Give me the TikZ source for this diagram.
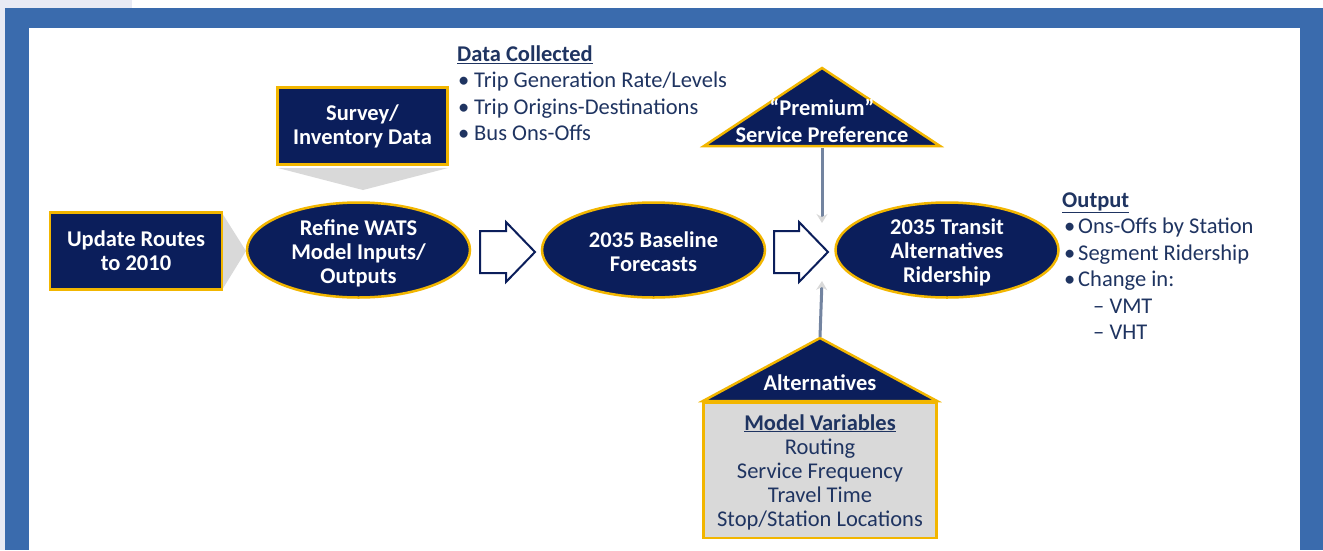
\documentclass[tikz,border=0pt]{standalone}
\usepackage{fontspec}
\setmainfont{Carlito}
\usetikzlibrary{shapes.geometric,arrows.meta}
\definecolor{navy}{HTML}{0B1E5B}
\definecolor{gold}{HTML}{F2B600}
\definecolor{frameblue}{HTML}{3A6BAD}
\definecolor{lav}{HTML}{E8EAF4}
\definecolor{txtnavy}{HTML}{1F3461}
\definecolor{lgray}{HTML}{D9D9D9}
\definecolor{arrgray}{HTML}{7384A0}
\begin{document}
\begin{tikzpicture}[x=1pt,y=-1pt,
  navybox/.style={rectangle,fill=navy,draw=gold,line width=2.5pt,text=white,align=center,inner sep=0pt,font=\fontsize{22.5}{24}\selectfont\bfseries},
  navyell/.style={ellipse,fill=navy,draw=gold,line width=2.5pt,inner sep=0pt,minimum width=223pt,minimum height=95pt},
  elltext/.style={text=white,align=center,inner sep=0pt,font=\fontsize{22.5}{24}\selectfont\bfseries},
  tritext/.style={text=white,align=center,inner sep=0pt,font=\fontsize{22.5}{26.5}\selectfont\bfseries},
  listtext/.style={text=txtnavy,align=left,inner sep=0pt,anchor=north west,font=\fontsize{22.5}{26.5}\selectfont},
  hollow/.style={draw=navy,fill=white,line width=2pt,line join=miter},
  chev/.style={fill=lgray},
  feed/.style={draw=arrgray,line width=3pt,-{Stealth[length=9pt,width=11pt,inset=3pt,color=lgray]}}]
\useasboundingbox (0,0) rectangle (1323,550);
% background frame
\fill[white] (0,0) rectangle (1323,550);
\fill[lav] (0,0) rectangle (132,8);
\fill[lav] (0,8) rectangle (5,550);
\fill[frameblue] (5,8) rectangle (1323,550);
\fill[white] (29,28) rectangle (1300,550);
% gray chevrons
\fill[chev] (222,213) -- (246,251) -- (222,290) -- cycle;
\fill[chev] (278,168) -- (448,168) -- (363,190) -- cycle;
% nodes
\node[navybox,minimum width=172pt,minimum height=77pt] (upd) at (136,251) {Update Routes\\to 2010};
\node[navybox,minimum width=170pt,minimum height=77pt] (srv) at (362.5,126) {Survey/\\Inventory Data};
\node[navyell,label={[elltext,yshift=-3pt]center:{Refine WATS\\Model Inputs/\\Outputs}}] (ref) at (358.5,250) {};
\node[navyell,label={[elltext,yshift=-2pt]center:{2035 Baseline\\Forecasts}}] (base) at (653.5,250) {};
\node[navyell,label={[elltext,yshift=-2pt]center:{2035 Transit\\Alternatives\\Ridership}}] (trans) at (947,250) {};
% hollow arrows
\draw[hollow] (480,231) -- (506,231) -- (506,222) -- (535,252) -- (506,282) -- (506,273) -- (480,273) -- cycle;
\draw[hollow] (774,231) -- (799,231) -- (799,222) -- (828,252) -- (799,282) -- (799,273) -- (774,273) -- cycle;
% premium triangle
\draw[fill=navy,draw=gold,line width=2.5pt,line join=miter] (822,68) -- (940,146) -- (704,146) -- cycle;
\node[tritext] (prem) at (822,121) {\textquotedblleft Premium\textquotedblright\\Service Preference};
\coordinate (premb) at (822,148);
% alternatives triangle + box
\node[rectangle,fill=lgray,draw=gold,line width=2.5pt,minimum width=233pt,minimum height=135pt,inner sep=0pt] (mv) at (820,470.5) {};
\draw[fill=navy,draw=gold,line width=2.5pt,line join=miter] (820,338) -- (937,401) -- (703,401) -- cycle;
\node[tritext] (alt) at (820,383) {Alternatives};
\coordinate (altt) at (820,337);
\node[text=txtnavy,align=center,inner sep=0pt,font=\fontsize{22.5}{24}\selectfont] (mvt) at (820,472) {\textbf{\underline{Model Variables}}\\Routing\\Service Frequency\\Travel Time\\Stop/Station Locations};
% feed arrows
\coordinate (pin) at (822,223);
\coordinate (pout) at (822,281);
\draw[feed] (premb) -- (pin);
\draw[feed] (altt) -- (pout);
% text lists
\node[listtext] (data) at (457,45.5) {\textbf{\underline{Data Collected}}\\
\hspace*{1pt}\makebox[16pt][l]{•}Trip Generation Rate/Levels\\
\hspace*{1pt}\makebox[16pt][l]{•}Trip Origins-Destinations\\
\hspace*{1pt}\makebox[16pt][l]{•}Bus Ons-Offs};
\node[listtext] (out) at (1062,192.5) {\textbf{\underline{Output}}\\
\hspace*{2pt}\makebox[14pt][l]{•}Ons-Offs by Station\\
\hspace*{2pt}\makebox[14pt][l]{•}Segment Ridership\\
\hspace*{2pt}\makebox[14pt][l]{•}Change in:\\
\hspace*{31pt}– VMT\\
\hspace*{31pt}– VHT};
\end{tikzpicture}
\end{document}
